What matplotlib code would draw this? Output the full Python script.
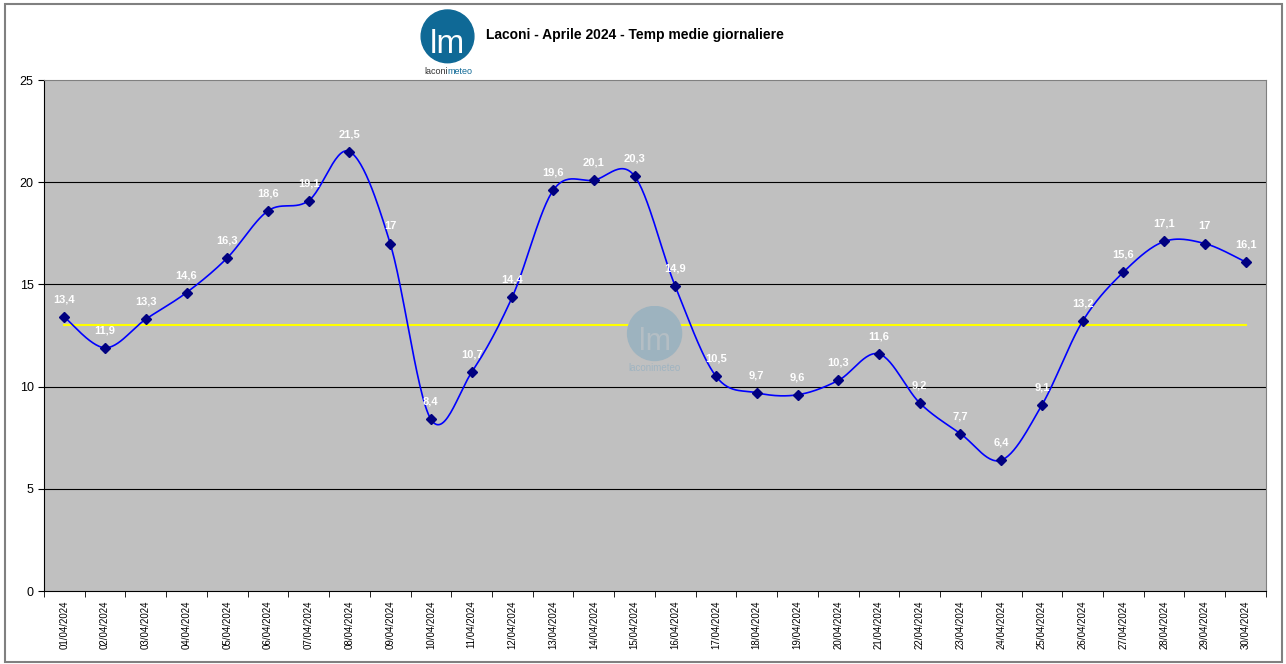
import numpy as np
import matplotlib.pyplot as plt
from matplotlib.patches import Circle, Rectangle

plt.rcParams['font.family'] = ['Liberation Sans', 'DejaVu Sans']

# Temperature medie giornaliere, Laconi aprile 2024
days = ['%02d/04/2024' % d for d in range(1, 31)]
temps = [13.4, 11.9, 13.3, 14.6, 16.3, 18.6, 19.1, 21.5, 17, 8.4,
         10.7, 14.4, 19.6, 20.1, 20.3, 14.9, 10.5, 9.7, 9.6, 10.3,
         11.6, 9.2, 7.7, 6.4, 9.1, 13.2, 15.6, 17.1, 17, 16.1]
media = 13
yticks = [0, 5, 10, 15, 20, 25]


def smooth(x, y, n=30):
    # curva liscia tipo Excel (Catmull-Rom)
    x = np.asarray(x, float)
    y = np.asarray(y, float)
    px = np.concatenate([[x[0]], x, [x[-1]]])
    py = np.concatenate([[y[0]], y, [y[-1]]])
    xs, ys = [], []
    t = np.linspace(0, 1, n)
    for i in range(1, len(px) - 2):
        p0, p1, p2, p3 = [np.array([px[j], py[j]]) for j in range(i - 1, i + 3)]
        c1 = p1 + (p2 - p0) / 6
        c2 = p2 - (p3 - p1) / 6
        b = ((1 - t) ** 3)[:, None] * p1 + (3 * (1 - t) ** 2 * t)[:, None] * c1 \
            + (3 * (1 - t) * t ** 2)[:, None] * c2 + (t ** 3)[:, None] * p2
        xs.extend(b[:, 0])
        ys.extend(b[:, 1])
    return xs, ys


fig = plt.figure(figsize=(12.86, 6.64), dpi=100)
fig.patch.set_facecolor('white')
fig.patches.append(Rectangle((0.004, 0.003), 0.993, 0.991, transform=fig.transFigure,
                             fill=False, edgecolor='#808080', linewidth=1.5))

ax = fig.add_axes([0.0342, 0.1099, 0.9502, 0.7696])
ax.set_facecolor('#C0C0C0')
x = np.arange(len(temps))

# watermark
wm = fig.add_axes([0.484, 0.44, 0.05, 0.1])
wm.set_xlim(0, 1)
wm.set_ylim(0, 1)
wm.axis('off')
wm.set_aspect('equal')
wm.add_patch(Circle((0.5, 0.58), 0.42, color='#9DB3BF'))
wm.text(0.5, 0.45, 'lm', color='#B4BEC4', fontsize=22, ha='center', va='center')
wm.text(0.5, 0.0, 'laconimeteo', color='#A0B4C0', fontsize=7, ha='center')

for v in yticks[1:-1]:
    ax.axhline(v, color='black', linewidth=0.8, zorder=1)
ax.plot([x[0], x[-1]], [media, media], color='#FFFF00', linewidth=1.5, zorder=2)
sx, sy = smooth(x, temps)
ax.plot(sx, sy, color='#0000FF', linewidth=1.2, zorder=3)
ax.plot(x, temps, linestyle='none', marker='D', markersize=5.5, color='#000080', zorder=4)

for xi, v in zip(x, temps):
    lab = ('%g' % v).replace('.', ',')
    ax.annotate(lab, (xi, v), xytext=(0, 9), textcoords='offset points', ha='center',
                va='bottom', color='white', fontsize=8, fontweight='bold', zorder=5)

ax.set_xlim(-0.5, len(temps) - 0.5)
ax.set_ylim(0, 25)
ax.set_yticks(yticks)
ax.set_yticklabels([str(v) for v in yticks], fontsize=9)
ax.set_xticks(x)
ax.set_xticklabels(days, rotation=90, fontsize=7)
ax.set_xticks(np.arange(-0.5, len(temps)), minor=True)
ax.tick_params(axis='x', which='major', length=0, pad=7)
ax.tick_params(axis='x', which='minor', length=4, color='black')
ax.tick_params(axis='y', length=4, color='black')
for s in ['top', 'right']:
    ax.spines[s].set_color('#808080')
ax.spines['left'].set_color('black')
ax.spines['bottom'].set_color('black')

# logo e titolo
lg = fig.add_axes([0.323, 0.885, 0.05, 0.105])
lg.set_xlim(0, 1)
lg.set_ylim(0, 1)
lg.axis('off')
lg.set_aspect('equal')
lg.add_patch(Circle((0.5, 0.58), 0.41, color='#0F6996'))
lg.text(0.5, 0.45, 'lm', color='white', fontsize=24, ha='center', va='center')
lg.text(0.5, 0.0, 'laconi', color='#333333', fontsize=6.5, ha='right')
lg.text(0.5, 0.0, 'meteo', color='#0F6996', fontsize=6.5, ha='left')

fig.text(0.378, 0.947, 'Laconi - Aprile 2024 - Temp medie giornaliere', fontsize=10,
         fontweight='bold', va='center')

fig.savefig('out.png', dpi=100)
